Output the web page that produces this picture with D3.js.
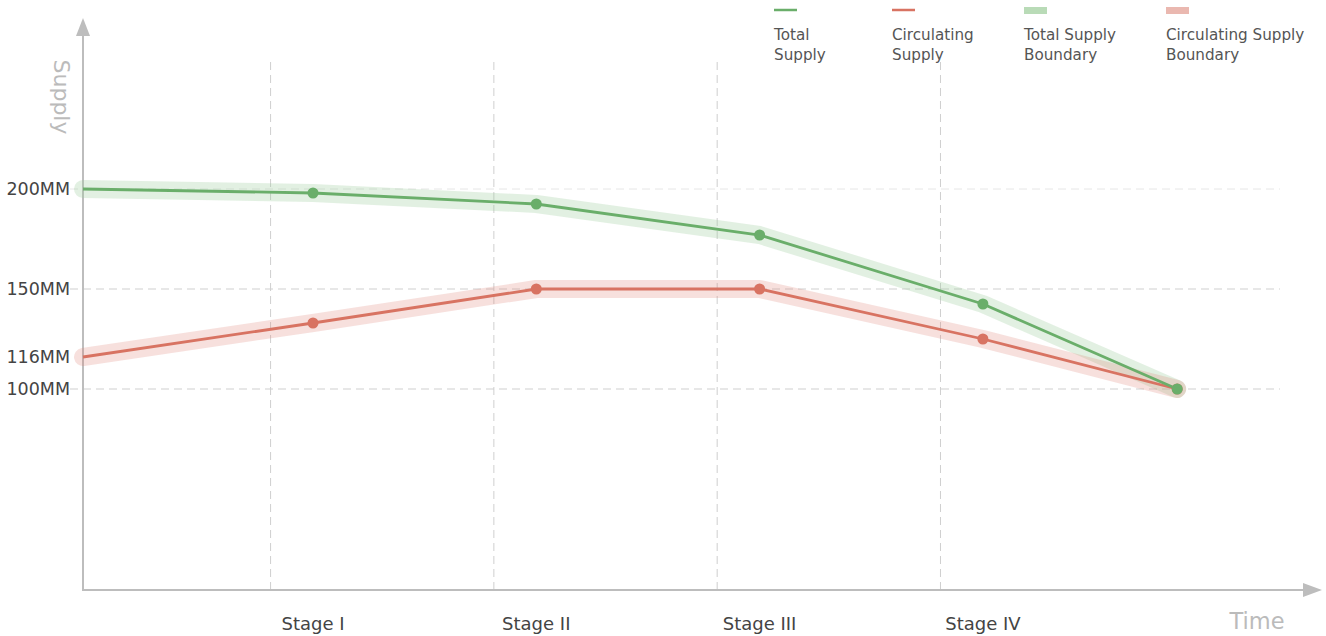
<!DOCTYPE html>
<html><head><meta charset="utf-8">
<script src="https://cdn.jsdelivr.net/npm/d3@7"></script>
<style>body{margin:0;background:#fff}svg{display:block}</style>
</head><body>
<svg id="c" width="1326" height="636" font-family="DejaVu Sans, sans-serif"></svg>
<script>
const times = [0, 1.03, 2.03, 3.03, 4.03, 4.9];
const totalSupply = [200, 198, 192.5, 177, 142.5, 100];
const circulatingSupply = [116, 133, 150, 150, 125, 100];
const stageLabels = ["Stage I", "Stage II", "Stage III", "Stage IV"];
const stageTimes = [1.03, 2.03, 3.03, 4.03];
const stageLines = [0.84, 1.84, 2.84, 3.84];
const yTicks = [100, 116, 150, 200];
const yGrid = [100, 150, 200];
const legendItems = ["Total\nSupply", "Circulating\nSupply", "Total Supply\nBoundary", "Circulating Supply\nBoundary"];

const svg = d3.select("#c");
const x = d3.scaleLinear().domain([0, 1]).range([83, 306.3]);
const y = d3.scaleLinear().domain([0, 100]).range([589, 389]);
const axisCol = "#bdbdbd";
const green = "#6aae6a", red = "#d87362";
const gBand = "rgba(160,205,160,0.3)", rBand = "rgba(225,130,120,0.25)";

// grid
svg.append("g").selectAll("line").data(yGrid).join("line")
  .attr("x1", 70).attr("x2", 1280).attr("y1", d => y(d)).attr("y2", d => y(d))
  .attr("stroke", (d) => d === 200 ? "#e6e6e6" : "#cfcfcf").attr("stroke-dasharray", "8,5").attr("stroke-width", 1);
svg.append("g").selectAll("line").data(stageLines).join("line")
  .attr("x1", d => x(d)).attr("x2", d => x(d)).attr("y1", 62).attr("y2", 590)
  .attr("stroke", "#cfcfcf").attr("stroke-dasharray", "8,5").attr("stroke-width", 1);

// axes
svg.append("line").attr("x1", 83).attr("x2", 83).attr("y1", 590).attr("y2", 32).attr("stroke", axisCol).attr("stroke-width", 2);
svg.append("path").attr("d", "M83,18 L76,36 L90,36 Z").attr("fill", axisCol);
svg.append("line").attr("x1", 82).attr("x2", 1306).attr("y1", 590).attr("y2", 590).attr("stroke", axisCol).attr("stroke-width", 2);
svg.append("path").attr("d", "M1322,590 L1303,583 L1303,597 Z").attr("fill", axisCol);

// y tick labels
svg.append("g").selectAll("text").data(yTicks).join("text")
  .attr("x", 70).attr("y", d => y(d)).attr("dy", "0.36em").attr("text-anchor", "end")
  .attr("font-size", 17.5).attr("fill", "#444").text(d => d + "MM");

// x labels
svg.append("g").selectAll("text").data(stageLabels).join("text")
  .attr("x", (d, i) => x(stageTimes[i])).attr("y", 630).attr("text-anchor", "middle")
  .attr("font-size", 18).attr("fill", "#444").text(d => d);

// axis titles
svg.append("text").attr("transform", "translate(54,97) rotate(90)").attr("text-anchor", "middle")
  .attr("font-size", 22).attr("fill", "#bbb").text("Supply");
svg.append("text").attr("x", 1257).attr("y", 629).attr("text-anchor", "middle")
  .attr("font-size", 22.5).attr("fill", "#bbb").text("Time");

const line = d3.line().x(d => x(d[0])).y(d => y(d[1]));
const tData = times.map((t, i) => [t, totalSupply[i]]);
const cData = times.map((t, i) => [t, circulatingSupply[i]]);

// bands
svg.append("path").attr("d", line(tData)).attr("fill", "none").attr("stroke", gBand)
  .attr("stroke-width", 18).attr("stroke-linecap", "round").attr("stroke-linejoin", "round");
svg.append("path").attr("d", line(cData)).attr("fill", "none").attr("stroke", rBand)
  .attr("stroke-width", 18).attr("stroke-linecap", "round").attr("stroke-linejoin", "round");

// lines
svg.append("path").attr("d", line(cData)).attr("fill", "none").attr("stroke", red).attr("stroke-width", 2.8);
svg.append("path").attr("d", line(tData)).attr("fill", "none").attr("stroke", green).attr("stroke-width", 2.8);

// dots
svg.append("g").selectAll("circle").data(cData.slice(1)).join("circle")
  .attr("cx", d => x(d[0])).attr("cy", d => y(d[1])).attr("r", 5.5).attr("fill", red);
svg.append("g").selectAll("circle").data(tData.slice(1)).join("circle")
  .attr("cx", d => x(d[0])).attr("cy", d => y(d[1])).attr("r", 5.5).attr("fill", green);

// legend
const legX = [774, 892, 1024, 1166];
const lg = svg.append("g");
legendItems.forEach((t, i) => {
  if (i < 2) {
    lg.append("line").attr("x1", legX[i]).attr("x2", legX[i] + 23).attr("y1", 10).attr("y2", 10)
      .attr("stroke", i === 0 ? green : red).attr("stroke-width", 2.5);
  } else {
    lg.append("rect").attr("x", legX[i]).attr("y", 7).attr("width", 23).attr("height", 7)
      .attr("fill", i === 2 ? "#b9dbb7" : "#eab8b0");
  }
  const tx = lg.append("text").attr("x", legX[i]).attr("y", 40).attr("font-size", 15.2).attr("fill", "#555");
  t.split("\n").forEach((s, j) => tx.append("tspan").attr("x", legX[i]).attr("dy", j ? 20 : 0).text(s));
});
</script>
</body></html>
